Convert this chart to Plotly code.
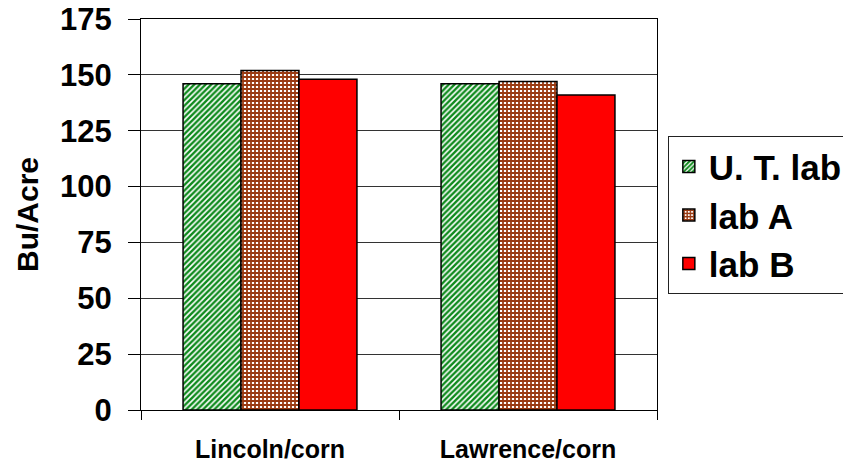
import plotly.graph_objects as go

categories = ["Lincoln/corn", "Lawrence/corn"]
series_names = ["U. T. lab", "lab A", "lab B"]
ut_lab = [146, 146]
lab_a = [152, 147]
lab_b = [148, 141]
y_ticks = [0, 25, 50, 75, 100, 125, 150, 175]

fig = go.Figure()
fig.add_trace(go.Bar(
    x=categories, y=ut_lab, name=series_names[0],
    marker=dict(color="white", line=dict(color="black", width=1.5),
                pattern=dict(shape="/", fgcolor="#0e8a1c", bgcolor="white", fgopacity=1,
                             size=4, solidity=0.6)),
))
fig.add_trace(go.Bar(
    x=categories, y=lab_a, name=series_names[1],
    marker=dict(color="white", line=dict(color="black", width=1.5),
                pattern=dict(shape="+", fgcolor="#9a3a12", bgcolor="white", fgopacity=1,
                             size=4, solidity=0.7)),
))
fig.add_trace(go.Bar(
    x=categories, y=lab_b, name=series_names[2],
    marker=dict(color="#ff0000", line=dict(color="black", width=1.5)),
))

font_family = "Liberation Sans, Arial, sans-serif"
fig.update_layout(
    width=843, height=470,
    margin=dict(l=141, r=186, t=19, b=60, autoexpand=False),
    paper_bgcolor="white", plot_bgcolor="white",
    barmode="group", bargap=0.326, bargroupgap=0,
    font=dict(family=font_family, color="black"),
    showlegend=True,
    legend=dict(
        x=1.021, xanchor="left", y=0.70, yanchor="top",
        bordercolor="#222", borderwidth=1, bgcolor="white",
        font=dict(size=35, family=font_family, weight="bold"),
        tracegroupgap=0,
    ),
    xaxis=dict(
        automargin=False,
        showline=True, linecolor="black", linewidth=1, mirror=True,
        tickson="boundaries", ticks="outside", ticklen=9, tickcolor="black",
        tickfont=dict(size=25, family=font_family, weight="bold"),
        ticklabelstandoff=17,
        showgrid=False,
    ),
    yaxis=dict(
        automargin=False,
        range=[0, 175], tickvals=y_ticks,
        showline=True, linecolor="black", linewidth=1, mirror=True,
        ticks="outside", ticklen=12, tickcolor="black",
        tickfont=dict(size=31, family=font_family, weight="bold"),
        ticklabelstandoff=10,
        showgrid=True, gridcolor="#333", gridwidth=1,
        zeroline=False,
        title=dict(text="Bu/Acre", font=dict(size=30, family=font_family, weight="bold"), standoff=12),
    ),
)

fig.write_html("out.html")
